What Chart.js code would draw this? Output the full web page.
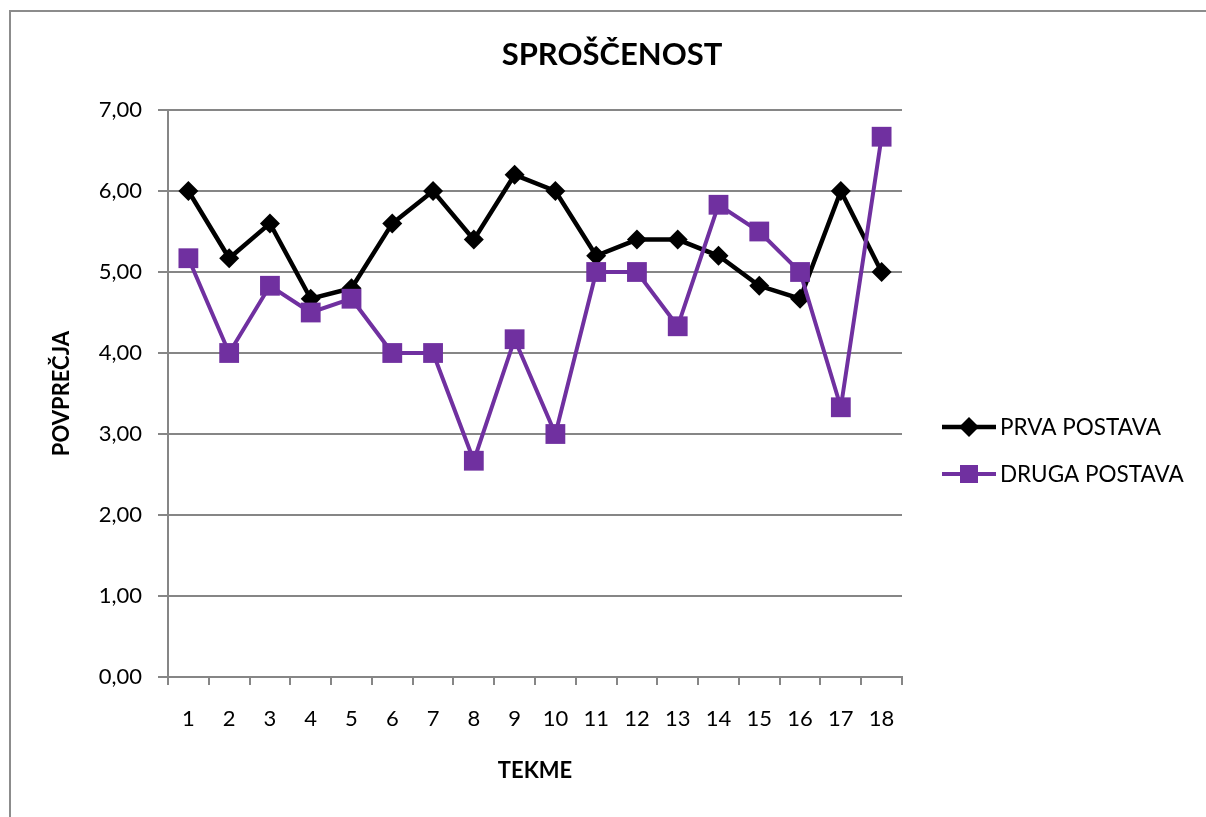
<!DOCTYPE html>
<html>
<head>
<meta charset="utf-8">
<script src="https://cdn.jsdelivr.net/npm/chart.js@4.4.0/dist/chart.umd.min.js"></script>
<style>
html, body { margin: 0; padding: 0; background: #fff; }
#frame { position: absolute; left: 9px; top: 10px; width: 1197px; height: 807px;
         border-left: 2px solid #8c8c8c; border-top: 2px solid #8c8c8c; }
#wrap { position: absolute; left: 0; top: 0; }
</style>
</head>
<body>
<div id="frame"></div>
<div id="wrap"><canvas id="chart" width="1206" height="817"></canvas></div>
<script>
var tekme = ['1','2','3','4','5','6','7','8','9','10','11','12','13','14','15','16','17','18'];
var prvaPostava = [6.00, 5.17, 5.60, 4.67, 4.80, 5.60, 6.00, 5.40, 6.20, 6.00, 5.20, 5.40, 5.40, 5.20, 4.83, 4.67, 6.00, 5.00];
var drugaPostava = [5.17, 4.00, 4.83, 4.50, 4.67, 4.00, 4.00, 2.67, 4.17, 3.00, 5.00, 5.00, 4.33, 5.83, 5.50, 5.00, 3.33, 6.67];
var yMin = 0, yMax = 7, yStep = 1;

var FONT = 'Lato';
var GRID = '#868686';
var PURPLE = '#7030A0';

// legend on the right: line with marker, like the office chart
var sideLegend = {
  id: 'sideLegend',
  afterDraw: function(chart) {
    var ctx = chart.ctx;
    var x0 = chart.chartArea.right + 40;
    var y0 = 427;
    ctx.save();
    chart.data.datasets.forEach(function(ds, i) {
      var y = y0 + i * 47;
      ctx.strokeStyle = ds.borderColor;
      ctx.lineWidth = ds.borderWidth;
      ctx.beginPath();
      ctx.moveTo(x0, y);
      ctx.lineTo(x0 + 54, y);
      ctx.stroke();
      ctx.fillStyle = ds.pointBackgroundColor;
      var cx = x0 + 27;
      ctx.beginPath();
      if (ds.pointStyle === 'rectRot') {
        ctx.moveTo(cx, y - 10); ctx.lineTo(cx + 10, y); ctx.lineTo(cx, y + 10); ctx.lineTo(cx - 10, y);
      } else {
        ctx.rect(cx - 9, y - 9, 18, 18);
      }
      ctx.closePath();
      ctx.fill();
      ctx.fillStyle = '#000';
      ctx.font = '22.5px ' + FONT;
      ctx.textBaseline = 'middle';
      ctx.textAlign = 'left';
      ctx.fillText(ds.label, x0 + 58, y + 1);
    });
    ctx.restore();
  }
};

new Chart(document.getElementById('chart'), {
  type: 'line',
  data: {
    labels: tekme,
    datasets: [
      {
        label: 'PRVA POSTAVA',
        data: prvaPostava,
        borderColor: '#000',
        borderWidth: 4.5,
        pointStyle: 'rectRot',
        pointRadius: 10,
        pointBorderWidth: 0,
        pointBackgroundColor: '#000',
        tension: 0,
        order: 2
      },
      {
        label: 'DRUGA POSTAVA',
        data: drugaPostava,
        borderColor: PURPLE,
        borderWidth: 4,
        pointStyle: 'rect',
        pointRadius: 14,
        pointBorderWidth: 0,
        pointBackgroundColor: PURPLE,
        tension: 0,
        order: 1
      }
    ]
  },
  options: {
    responsive: false,
    animation: false,
    layout: { padding: { left: 18, top: 0, right: 0, bottom: 0 } },
    plugins: {
      legend: { display: false },
      tooltip: { enabled: false },
      title: {
        display: true,
        text: 'SPROŠČENOST',
        color: '#000',
        font: { family: FONT, size: 31, weight: 'bold' },
        padding: { top: 36, bottom: 36.8 }
      }
    },
    scales: {
      x: {
        offset: true,
        grid: { offset: true, drawOnChartArea: false, drawTicks: true, tickLength: 8, color: GRID, lineWidth: 2 },
        border: { color: GRID, width: 2 },
        ticks: { color: '#000', padding: 21, maxRotation: 0, font: { family: FONT, size: 22 } },
        title: {
          display: true, text: 'TEKME', color: '#000',
          font: { family: FONT, size: 22, weight: 'bold' },
          padding: { top: 0, bottom: 33 }
        },
        afterFit: function(s) { s.height = 140; }
      },
      y: {
        min: yMin, max: yMax,
        grid: { color: GRID, lineWidth: 2, tickLength: 10, drawTicks: true },
        border: { color: GRID, width: 2 },
        ticks: {
          stepSize: yStep, padding: 16, color: '#000',
          font: { family: FONT, size: 22 },
          callback: function(v) { return v.toFixed(2).replace('.', ','); }
        },
        title: {
          display: true, text: 'POVPREČJA', color: '#000',
          font: { family: FONT, size: 22, weight: 'bold' },
          padding: { top: 31, bottom: 0 }
        },
        afterFit: function(s) { s.width = 150; }
      },
      side: {
        position: 'right',
        display: true,
        grid: { display: false },
        border: { display: false },
        ticks: { display: false },
        afterFit: function(s) { s.width = 304; }
      }
    }
  },
  plugins: [sideLegend]
});
</script>
</body>
</html>
